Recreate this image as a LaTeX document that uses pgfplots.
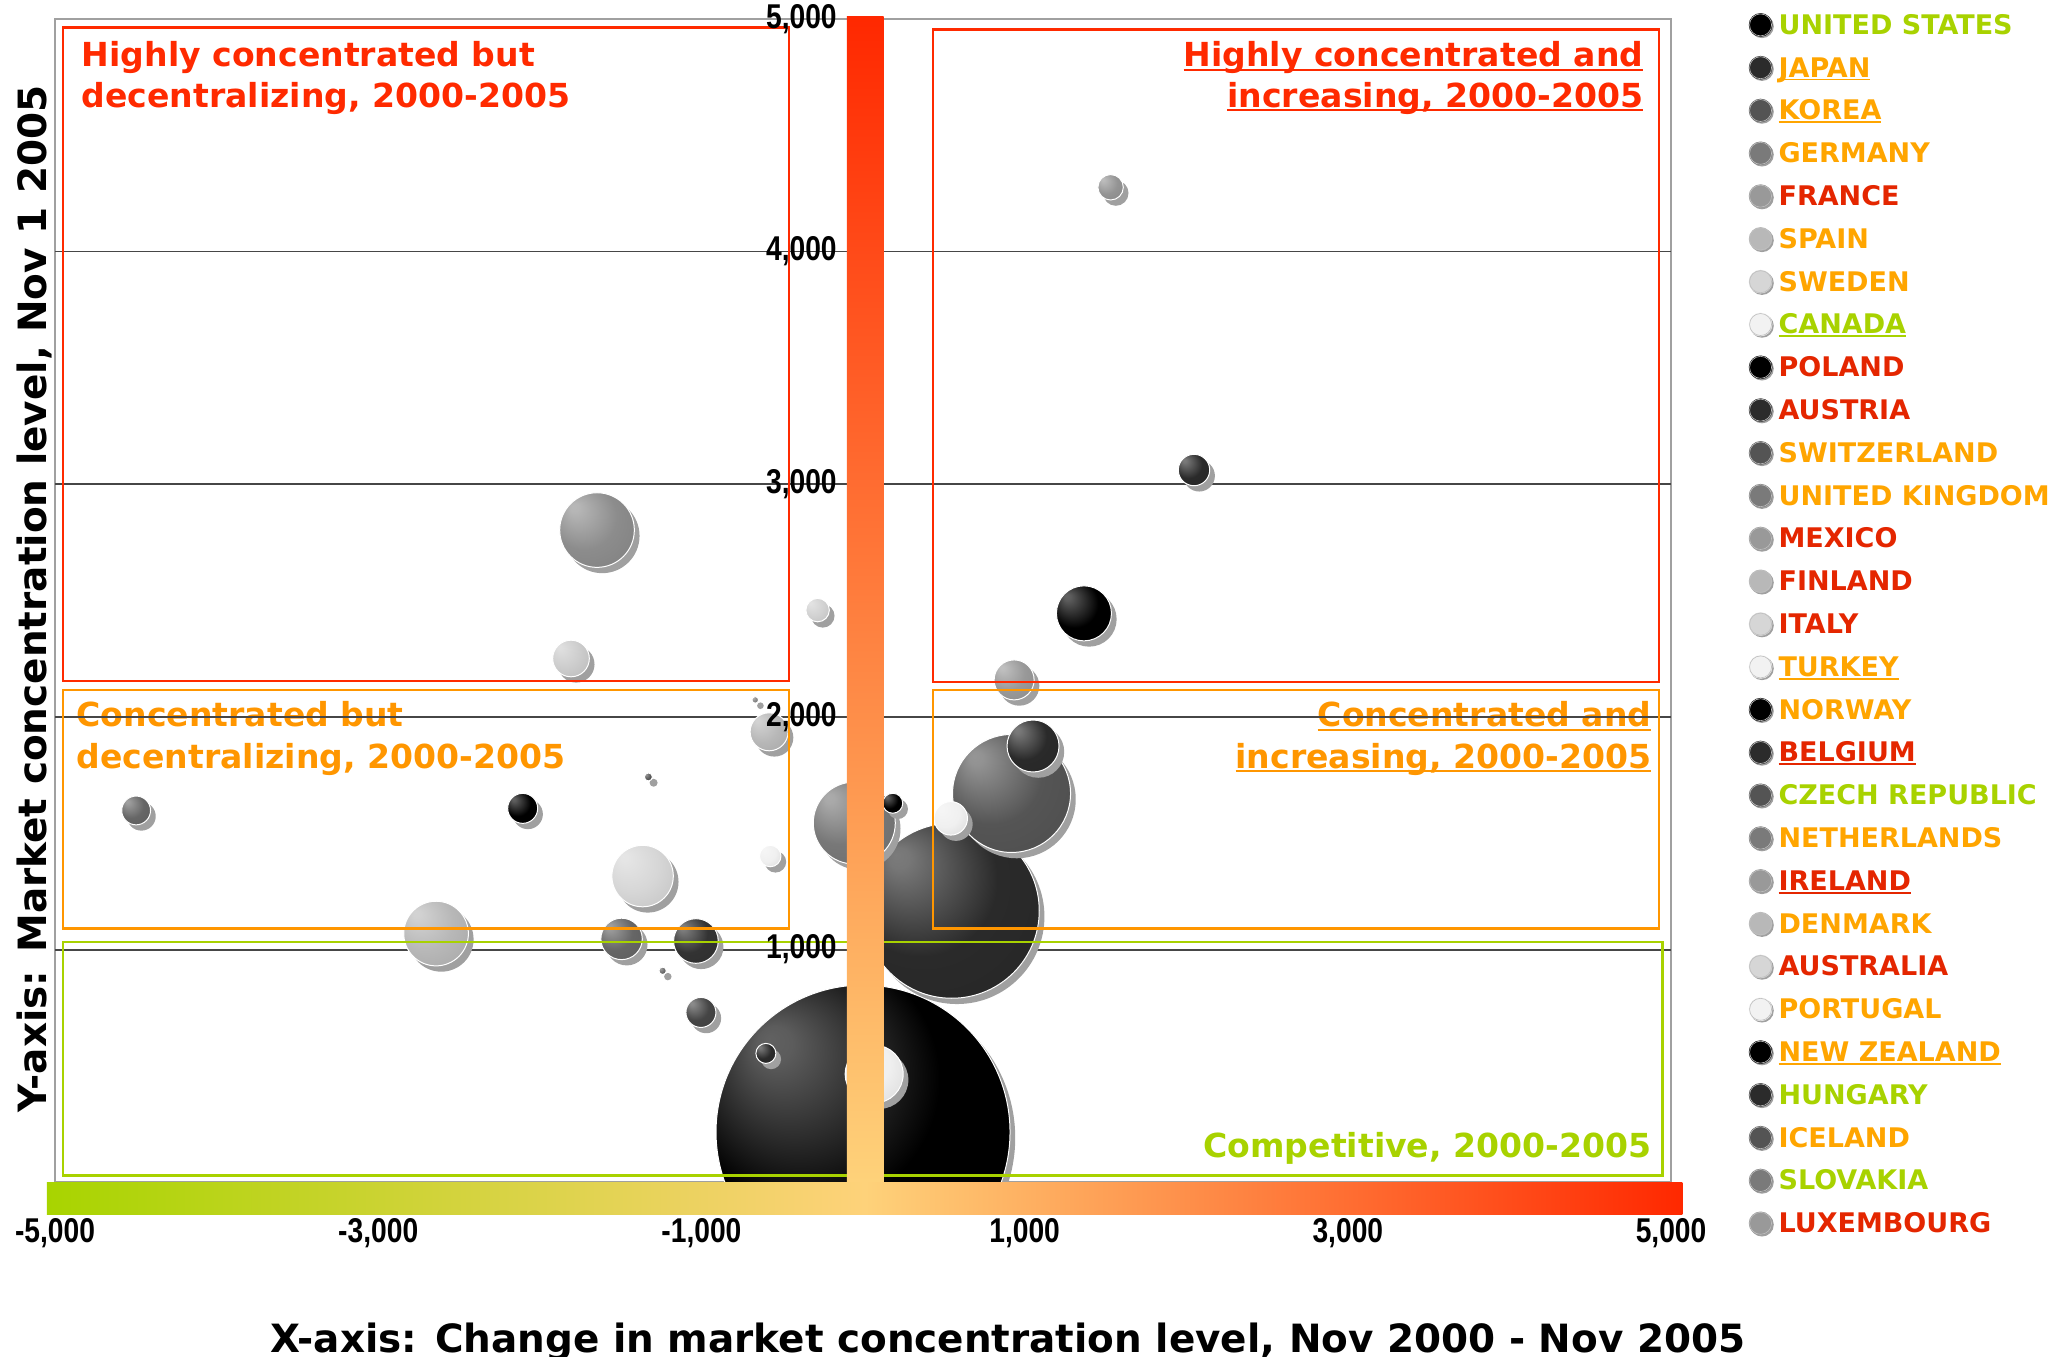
\documentclass[border=0pt]{standalone}
\usepackage{fontspec}
\setmainfont{Liberation Sans}
\newfontfamily\narrowfont[FakeStretch=0.82]{Liberation Sans}
\newfontfamily\dejavu{DejaVu Sans}
\usepackage{graphicx}
\usepackage{pgfplots}
\usepackage{pgfplotstable}
\pgfplotsset{compat=1.18}

\definecolor{qred}{RGB}{255,42,0}
\definecolor{lred}{RGB}{228,38,0}
\definecolor{qorange}{RGB}{255,150,0}
\definecolor{lorange}{RGB}{255,165,0}
\definecolor{qgreen}{RGB}{168,210,0}
\definecolor{framegray}{RGB}{160,160,160}
\definecolor{gridgray}{RGB}{70,70,70}
\definecolor{bubshadow}{RGB}{160,160,160}
\definecolor{barlow}{RGB}{254,210,122}
\definecolor{barred}{RGB}{255,40,0}
\definecolor{bargreen}{RGB}{168,212,0}
\definecolor{gA}{gray}{0}
\definecolor{gB}{gray}{0.17}
\definecolor{gC}{gray}{0.33}
\definecolor{gD}{gray}{0.48}
\definecolor{gE}{gray}{0.60}
\definecolor{gF}{gray}{0.72}
\definecolor{gG}{gray}{0.84}
\definecolor{gH}{gray}{0.95}

\colorlet{bubcol}{black}
\pgfdeclareradialshading[bubcol]{bubshade}{\pgfqpoint{-16bp}{16bp}}{%
  color(0bp)=(bubcol!62!white);
  color(3bp)=(bubcol!64!white);
  color(22bp)=(bubcol);
  color(50bp)=(bubcol!86!black)}

\pgfdeclareplotmark{bubble}{%
  \pgfpathcircle{\pgfqpoint{1.3pt}{-1.45pt}}{\pgfplotmarksize}%
  \pgfsetfillcolor{bubshadow}%
  \pgfusepath{fill}%
  \pgfpathcircle{\pgfpointorigin}{\pgfplotmarksize}%
  \pgfshadepath{bubshade}{0}%
  \pgfusepath{discard}%
  \pgfpathcircle{\pgfpointorigin}{\pgfplotmarksize}%
  \pgfsetstrokecolor{white}%
  \pgfsetlinewidth{0.25pt}%
  \pgfusepath{stroke}%
}

\newcommand\tickfont{\narrowfont\bfseries\fontsize{8.6pt}{10pt}\selectfont}
\newcommand\qfont{\dejavu\bfseries\fontsize{8.27pt}{10pt}\selectfont}
\newcommand\legfont{\dejavu\bfseries\fontsize{6.75pt}{8pt}\selectfont}
\newcommand\titfont{\dejavu\bfseries\fontsize{10pt}{12pt}\selectfont}
\newcommand\ul[1]{\setbox0\hbox{#1}\rlap{\rule[-0.12em]{\wd0}{0.065em}}\box0}

\newcommand{\LE}[2]{%
  \addlegendimage{legend image code/.code={%
    \fill[bubshadow] (3.1pt,-0.35pt) circle[radius=2.75pt];
    \fill[#1] (2.75pt,0pt) circle[radius=2.75pt];
    \draw[black!25,line width=0.15pt] (2.75pt,0pt) circle[radius=2.75pt];}}%
  \addlegendentry{#2}}

\pgfplotstableread{
x y r g
0 216 36.75 0
549 1167 21.875 0.165
919 1671 14.75 0.333
-54 1544 10.25 0.47
-1646 2803 9.33 0.55
-2642 1069 8.08 0.72
-1364 1316 7.68 0.84
69 465 7.25 0.94
1367 2445 6.88 0
1052 1875 6.5 0.165
-1034 1037 5.58 0.2
-1494 1046 5.18 0.4
935 2159 5.0 0.6
-581 1936 4.75 0.72
-1807 2251 4.58 0.8
543 1564 4.18 0.94
2048 3061 3.93 0.165
-2106 1607 3.75 0
-1003 730 3.75 0.27
-4498 1598 3.6 0.4
1532 4276 3.18 0.58
-281 2459 2.93 0.82
-574 1402 2.68 0.94
-601 554 2.5 0.165
184 1629 2.5 0
-1328 1742 1.0 0.33
-1240 909 0.93 0.4
-667 2073 0.83 0.5
}\bubbles

\begin{document}
\begin{tikzpicture}
\useasboundingbox (0,0) rectangle (513.25pt,-339.25pt);
\begin{axis}[
  at={(13.75pt,-295.575pt)}, anchor=south west,
  scale only axis, width=404pt, height=290.875pt,
  xmin=-5000, xmax=5000, ymin=0, ymax=5000,
  axis line style={draw=framegray, line width=0.6pt},
  clip mode=individual, clip marker paths=true,
  xtick={-5000,-3000,-1000,1000,3000,5000},
  xticklabels={{-5,000},{-3,000},{-1,000},{1,000},{3,000},{5,000}},
  xticklabel style={font=\tickfont, anchor=center, yshift=-12.8pt},
  ytick={1000,2000,3000,4000}, yticklabels={},
  major tick length=0pt,
  xlabel={\resizebox{368.6pt}{!}{X-axis: Change in market concentration level, Nov 2000 - Nov 2005}},
  xlabel style={at={(axis description cs:0.5897,-0.1459)}, anchor=base, font=\titfont},
  ylabel={\resizebox{256.9pt}{!}{Y-axis: Market concentration level, Nov 1 2005}},
  ylabel style={at={(axis description cs:-0.0053,0.5013)}, anchor=base, font=\titfont},
  legend style={at={(1.0481,1.0049)}, anchor=north west, draw=none, fill=none,
    inner sep=0pt, outer sep=0pt, row sep=4.45pt, font=\legfont,
    nodes={inner sep=0pt, text height=5.3pt, text depth=0.6pt},
    /tikz/every odd column/.append style={column sep=1.2pt}},
  legend cell align=left,
]
% region labels (background)
\node[anchor=base west, text=qred, font=\qfont, inner sep=0pt] at (axis cs:-4839,4793) {Highly concentrated but};
\node[anchor=base west, text=qred, font=\qfont, inner sep=0pt] at (axis cs:-4839,4621) {decentralizing, 2000-2005};
\node[anchor=base east, text=qred, font=\qfont, inner sep=0pt] at (axis cs:4833,4793) {\ul{Highly concentrated and}};
\node[anchor=base east, text=qred, font=\qfont, inner sep=0pt] at (axis cs:4833,4621) {\ul{increasing, 2000-2005}};
\node[anchor=base west, text=qorange, font=\qfont, inner sep=0pt] at (axis cs:-4871,1958) {Concentrated but};
\node[anchor=base west, text=qorange, font=\qfont, inner sep=0pt] at (axis cs:-4871,1780) {decentralizing, 2000-2005};
\node[anchor=base east, text=qorange, font=\qfont, inner sep=0pt] at (axis cs:4883,1958) {\ul{Concentrated and}};
\node[anchor=base east, text=qorange, font=\qfont, inner sep=0pt] at (axis cs:4883,1780) {\ul{increasing, 2000-2005}};
\node[anchor=base east, text=qgreen, font=\qfont, inner sep=0pt] at (axis cs:4883,108) {Competitive, 2000-2005};
% grid lines
\draw[gridgray, line width=0.45pt] (axis cs:-5000,1000) -- (axis cs:5000,1000);
\draw[gridgray, line width=0.45pt] (axis cs:-5000,2000) -- (axis cs:5000,2000);
\draw[gridgray, line width=0.45pt] (axis cs:-5000,3000) -- (axis cs:5000,3000);
\draw[gridgray, line width=0.45pt] (axis cs:-5000,4000) -- (axis cs:5000,4000);
% bubbles
\addplot[scatter, only marks, mark=bubble, forget plot,
  visualization depends on={\thisrow{r} \as \bubr},
  visualization depends on={\thisrow{g} \as \bubg},
  scatter/@pre marker code/.code={\definecolor{bubcol}{gray}{\bubg}\scope[/tikz/mark size=\bubr pt]},
  scatter/@post marker code/.code={\endscope},
] table[x=x, y=y] {\bubbles};
% region boxes
\draw[qred, line width=0.6pt] (axis cs:-4949,2155) rectangle (axis cs:-457,4962);
\draw[qred, line width=0.6pt] (axis cs:434,2149) rectangle (axis cs:4926,4954);
\draw[qorange, line width=0.6pt] (axis cs:-4949,1091) rectangle (axis cs:-457,2116);
\draw[qorange, line width=0.6pt] (axis cs:434,1091) rectangle (axis cs:4926,2116);
\draw[qgreen, line width=0.6pt] (axis cs:-4949,30) rectangle (axis cs:4946,1033);
% gradient axes bars
\shade[top color=barred, bottom color=barlow] (axis cs:-100,0) rectangle (axis cs:128,5010);
\shade[left color=bargreen, right color=barred, middle color=barlow] (axis cs:-5050,0) rectangle (axis cs:5070,-140);
% y tick labels
\node[anchor=east, font=\tickfont, inner sep=0pt] at (axis cs:-158,1000) {1,000};
\node[anchor=east, font=\tickfont, inner sep=0pt] at (axis cs:-158,2000) {2,000};
\node[anchor=east, font=\tickfont, inner sep=0pt] at (axis cs:-158,3000) {3,000};
\node[anchor=east, font=\tickfont, inner sep=0pt] at (axis cs:-158,4000) {4,000};
\node[anchor=east, font=\tickfont, inner sep=0pt] at (axis cs:-158,5000) {5,000};
% legend
\LE{gA}{\textcolor{qgreen}{UNITED STATES}}
\LE{gB}{\textcolor{lorange}{\ul{JAPAN}}}
\LE{gC}{\textcolor{lorange}{\ul{KOREA}}}
\LE{gD}{\textcolor{lorange}{GERMANY}}
\LE{gE}{\textcolor{lred}{FRANCE}}
\LE{gF}{\textcolor{lorange}{SPAIN}}
\LE{gG}{\textcolor{lorange}{SWEDEN}}
\LE{gH}{\textcolor{qgreen}{\ul{CANADA}}}
\LE{gA}{\textcolor{lred}{POLAND}}
\LE{gB}{\textcolor{lred}{AUSTRIA}}
\LE{gC}{\textcolor{lorange}{SWITZERLAND}}
\LE{gD}{\textcolor{lorange}{UNITED KINGDOM}}
\LE{gE}{\textcolor{lred}{MEXICO}}
\LE{gF}{\textcolor{lred}{FINLAND}}
\LE{gG}{\textcolor{lred}{ITALY}}
\LE{gH}{\textcolor{lorange}{\ul{TURKEY}}}
\LE{gA}{\textcolor{lorange}{NORWAY}}
\LE{gB}{\textcolor{lred}{\ul{BELGIUM}}}
\LE{gC}{\textcolor{qgreen}{CZECH REPUBLIC}}
\LE{gD}{\textcolor{lorange}{NETHERLANDS}}
\LE{gE}{\textcolor{lred}{\ul{IRELAND}}}
\LE{gF}{\textcolor{lorange}{DENMARK}}
\LE{gG}{\textcolor{lred}{AUSTRALIA}}
\LE{gH}{\textcolor{lorange}{PORTUGAL}}
\LE{gA}{\textcolor{lorange}{\ul{NEW ZEALAND}}}
\LE{gB}{\textcolor{qgreen}{HUNGARY}}
\LE{gC}{\textcolor{lorange}{ICELAND}}
\LE{gD}{\textcolor{qgreen}{SLOVAKIA}}
\LE{gE}{\textcolor{lred}{LUXEMBOURG}}
\end{axis}
\end{tikzpicture}
\end{document}
